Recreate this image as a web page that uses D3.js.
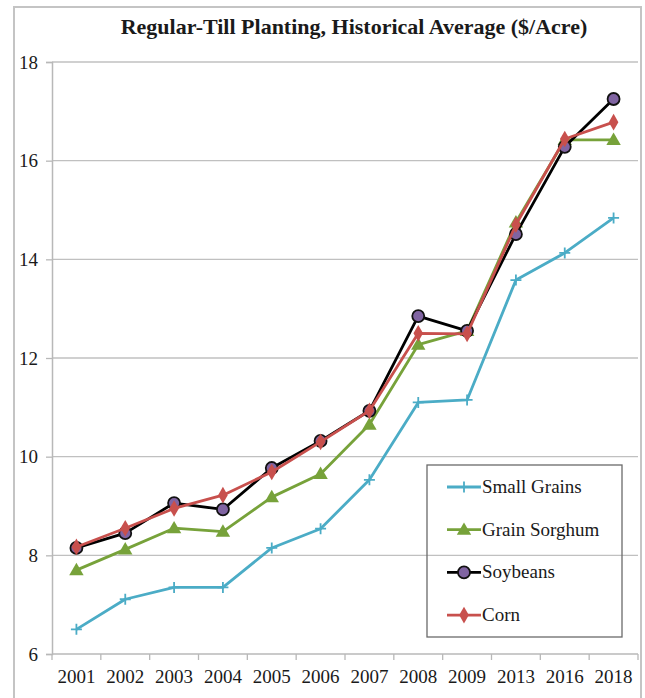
<!DOCTYPE html>
<html>
<head>
<meta charset="utf-8">
<script src="https://cdn.jsdelivr.net/npm/d3@7"></script>
<style>
 body{margin:0;background:#fff;}
 svg text{font-family:"Liberation Serif","Times New Roman",serif !important;fill:#1a1a1a;}
</style>
</head>
<body>
<svg id="chart" width="645" height="698" font-family="Liberation Serif"></svg>
<script>
//donnees
var annees = ["2001","2002","2003","2004","2005","2006","2007","2008","2009","2013","2016","2018"];
var smallGrains  = [6.5,7.11,7.35,7.35,8.15,8.54,9.53,11.1,11.15,13.58,14.13,14.84];
var grainSorghum = [7.7,8.12,8.55,8.48,9.18,9.65,10.65,12.27,12.55,14.75,16.42,16.42];
var soybeans     = [8.15,8.45,9.06,8.93,9.77,10.32,10.93,12.85,12.55,14.51,16.28,17.25];
var corn         = [8.17,8.55,8.95,9.22,9.69,10.3,10.93,12.5,12.49,14.7,16.44,16.78];
var yTicks = [6,8,10,12,14,16,18];
var titre = "Regular-Till Planting, Historical Average ($/Acre)";

var series = [
	{nom:"Small Grains", vals:smallGrains, coul:"#4bacc6", forme:"plus"},
	{nom:"Grain Sorghum", vals:grainSorghum, coul:"#77a23a", forme:"tri"},
	{nom:"Soybeans", vals:soybeans, coul:"#000000", forme:"rond"},
	{nom:"Corn", vals:corn, coul:"#c8504d", forme:"losange"}
];

var svg = d3.select("#chart");

//cadre exterieur
svg.append("rect").attr("x",14).attr("y",7).attr("width",627).attr("height",720)
	.attr("fill","none").attr("stroke","#c4c4c4").attr("stroke-width",2);

svg.append("text").attr("x",354).attr("y",34).attr("text-anchor","middle")
	.style("font-weight","bold").style("font-size","22px").text(titre);

var x = d3.scaleBand().domain(annees).range([52,638]);
var y = d3.scaleLinear().domain([6,18]).range([654,62]);

//grille
svg.append("g").selectAll("line").data(yTicks.slice(1)).enter().append("line")
	.attr("x1",52).attr("x2",638)
	.attr("y1",function(d){return y(d);}).attr("y2",function(d){return y(d);})
	.attr("stroke","#c0c0c0").attr("stroke-width",1.3);

//axes
var axeY = svg.append("g").attr("transform","translate(52,0)")
	.call(d3.axisLeft(y).tickValues(yTicks).tickSize(6).tickPadding(8));
var axeX = svg.append("g").attr("transform","translate(0,654)")
	.call(d3.axisBottom(x).tickSize(0).tickPadding(16));
// petits traits entre les annees
svg.append("g").selectAll("line").data(annees.concat(["fin"])).enter().append("line")
	.attr("x1",function(d,i){return 52+i*x.step();}).attr("x2",function(d,i){return 52+i*x.step();})
	.attr("y1",654).attr("y2",660).attr("stroke","#b8b8b8").attr("stroke-width",1.3);

[axeX,axeY].forEach(function(a){
	a.attr("font-family",null).attr("font-size",null);
	a.select(".domain").attr("stroke","#b8b8b8").attr("stroke-width",1.5);
	a.selectAll(".tick line").attr("stroke","#b8b8b8").attr("stroke-width",1.3);
	a.selectAll("text").style("font-size","19px").attr("fill","#1a1a1a");
});
axeX.select(".domain").attr("d","M52,0H638");

var cx = function(d,i){return x(annees[i])+x.bandwidth()/2;};
var ligne = d3.line().x(cx).y(function(d){return y(d);});

function marqueur(g, forme, coul, px, py){
	if(forme=="plus"){
		g.append("path").attr("d","M"+(px-5.5)+","+py+"H"+(px+5.5)+"M"+px+","+(py-5.5)+"V"+(py+5.5))
			.attr("stroke",coul).attr("stroke-width",1.8);
	} else if(forme=="tri"){
		g.append("path").attr("d",d3.symbol(d3.symbolTriangle,90)())
			.attr("transform","translate("+px+","+(py+1)+")").attr("fill",coul);
	} else if(forme=="rond"){
		g.append("circle").attr("cx",px).attr("cy",py).attr("r",6)
			.attr("fill","#8064a2").attr("stroke","#111").attr("stroke-width",1.8);
	} else {
		g.append("path").attr("d",d3.symbol(d3.symbolDiamond,80)())
			.attr("transform","translate("+px+","+py+")").attr("fill",coul);
	}
}

series.forEach(function(s){
	var g = svg.append("g");
	g.append("path").datum(s.vals).attr("d",ligne).attr("fill","none")
		.attr("stroke",s.coul).attr("stroke-width",2.8).attr("stroke-linejoin","round");
	s.vals.forEach(function(v,i){
		marqueur(g, s.forme, s.coul, cx(v,i), y(v));
	});
});

//legende
var leg = svg.append("g");
leg.append("rect").attr("x",427).attr("y",465).attr("width",195).attr("height",172)
	.attr("fill","none").attr("stroke","#6a6a6a").attr("stroke-width",1.3);
series.forEach(function(s,i){
	var ly = 487+i*42.7;
	leg.append("line").attr("x1",447).attr("x2",481).attr("y1",ly).attr("y2",ly)
		.attr("stroke",s.coul).attr("stroke-width",2.8);
	marqueur(leg, s.forme, s.coul, 464, ly);
	leg.append("text").attr("x",482).attr("y",ly+6).style("font-size","19px").text(s.nom);
});
</script>
</body>
</html>
